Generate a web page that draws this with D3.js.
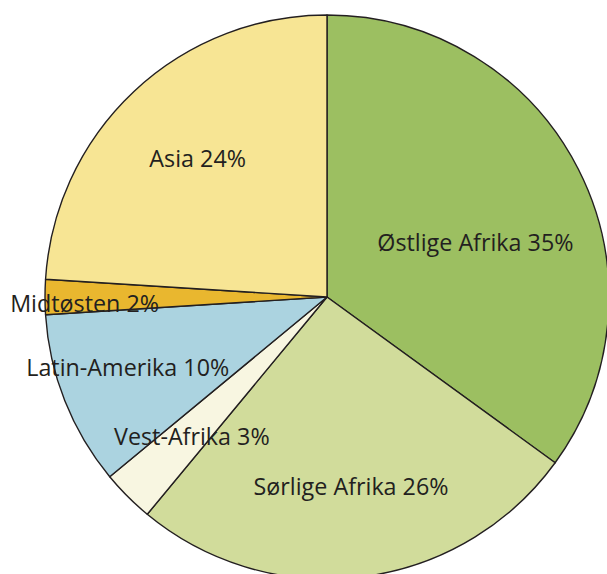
<!DOCTYPE html>
<html>
<head>
<meta charset="utf-8">
<script src="https://cdn.jsdelivr.net/npm/d3@7"></script>
<style>
  body { margin: 0; background: #fff; }
  svg text { font-family: "Open Sans", sans-serif; fill: #231f20; }
</style>
</head>
<body>
<div id="chart"></div>
<script>
// Regions and their share (%) - clockwise from 12 o'clock
const regions = ['Østlige Afrika', 'Sørlige Afrika', 'Vest-Afrika', 'Latin-Amerika', 'Midtøsten', 'Asia'];
const shares = [35, 26, 3, 10, 2, 24];
const colors = ['#9cbf61', '#d1dc9b', '#f8f6e1', '#abd3e0', '#e9b72f', '#f7e594'];

const config = {
    width: 607,
    height: 574,
    cx: 327,
    cy: 297,
    radius: 282,
    fontSize: 23.3,
    // label placement: radius fraction and angle nudge (degrees) per region
    labelPos: {
        'Østlige Afrika': {r: 0.56, da: 7},
        'Sørlige Afrika': {r: 0.68, da: 0},
        'Vest-Afrika': {r: 0.69, da: -1},
        'Latin-Amerika': {r: 0.75, da: 2},
        'Midtøsten': {r: 0.86, da: -1.5},
        'Asia': {r: 0.67, da: 0}
    }
};

const data = regions.map((name, i) => ({name: name, value: shares[i]}));

const svg = d3.select('#chart').append('svg')
    .attr('width', config.width)
    .attr('height', config.height);

const g = svg.append('g')
    .attr('transform', `translate(${config.cx},${config.cy})`);

const color = d3.scaleOrdinal().domain(regions).range(colors);

const pie = d3.pie()
    .value(d => d.value)
    .sort(null);

const arc = d3.arc()
    .innerRadius(0)
    .outerRadius(config.radius);

const arcs = pie(data);

g.selectAll('.slice')
    .data(arcs)
    .join('path')
    .attr('class', 'slice')
    .attr('d', arc)
    .attr('fill', d => color(d.data.name))
    .attr('stroke', '#231f20')
    .attr('stroke-width', 1.4)
    .attr('stroke-linejoin', 'round');

g.selectAll('.label')
    .data(arcs)
    .join('text')
    .attr('class', 'label')
    .attr('text-anchor', 'middle')
    .attr('dy', '0.35em')
    .attr('font-size', config.fontSize)
    .attr('transform', d => {
        const p = config.labelPos[d.data.name];
        const a = (d.startAngle + d.endAngle) / 2 + p.da * Math.PI / 180;
        const r = config.radius * p.r;
        return `translate(${r * Math.sin(a)},${-r * Math.cos(a)})`;
    })
    .text(d => `${d.data.name} ${d.data.value}%`);
</script>
</body>
</html>
